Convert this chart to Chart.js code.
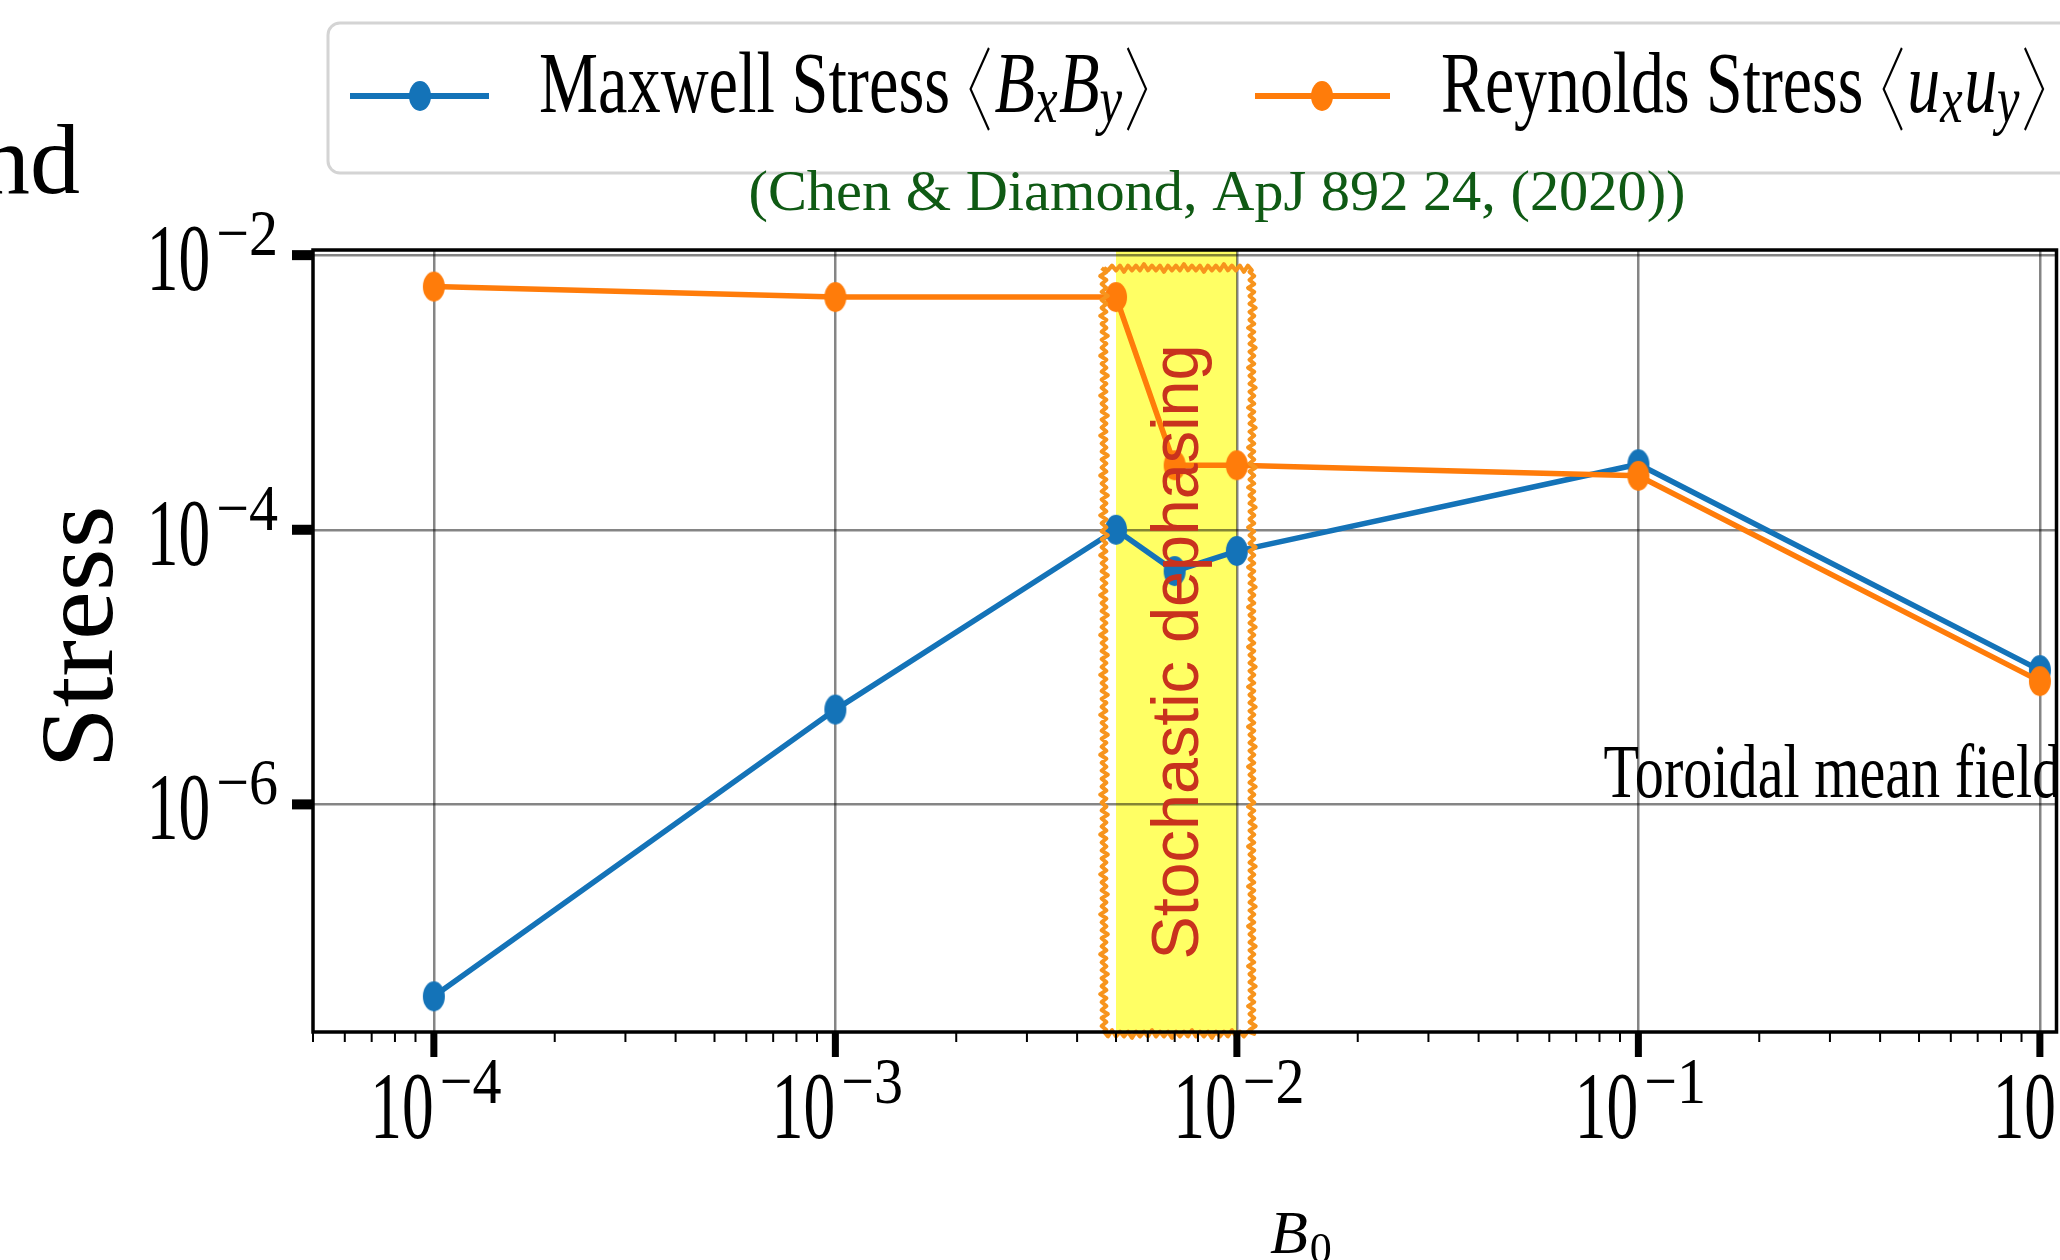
<!DOCTYPE html>
<html>
<head>
<meta charset="utf-8">
<title>Maxwell and Reynolds stress vs B0</title>
<script src="https://cdn.jsdelivr.net/npm/chart.js@4.4.1/dist/chart.umd.min.js"></script>
<style>
  html, body { margin: 0; padding: 0; background: #ffffff; overflow: hidden; }
  canvas { display: block; }
</style>
</head>
<body>
<!-- a little wider than the window: the right edge of the figure is cut off -->
<canvas id="stressChart" width="2072" height="1260"></canvas>
<script>
// Mean field strength B0 and the two stress components
const B0_VALUES = [1e-4, 1e-3, 5e-3, 7e-3, 1e-2, 1e-1, 1];
const MAXWELL_STRESS = [4.0e-8, 4.9e-6, 1.0e-4, 5.0e-5, 7.0e-5, 3.0e-4, 9.5e-6];
const REYNOLDS_STRESS = [5.9e-3, 4.95e-3, 4.95e-3, 2.95e-4, 2.95e-4, 2.47e-4, 7.9e-6];

// Axis limits and labelled decades
const X_RANGE = [5e-5, 1.1];
const Y_RANGE = [2.2e-8, 1.09e-2];
const X_DECADES = [1e-4, 1e-3, 1e-2, 1e-1, 1];
const Y_DECADES = [1e-6, 1e-4, 1e-2];

// Shaded region where stochastic dephasing sets in
const DEPHASING_RANGE = [5e-3, 1e-2];

const BLUE = '#1473b8';
const ORANGE = '#ff7c0a';
const SERIF = '"Liberation Serif", "Times New Roman", serif';

// Markers are slightly taller than wide
function makeMarker(color) {
    const c = document.createElement('canvas');
    c.width = 24;
    c.height = 32;
    const g = c.getContext('2d');
    g.fillStyle = color;
    g.beginPath();
    g.ellipse(12, 16, 11, 15, 0, 0, Math.PI * 2);
    g.fill();
    return c;
}
const blueMarker = makeMarker(BLUE);
const orangeMarker = makeMarker(ORANGE);

function expLabel(v) {
    const e = Math.round(Math.log10(v));
    return e < 0 ? '\u2212' + Math.abs(e) : String(e);
}

// Draws a run of text pieces (roman, italic, sub/superscripts, angle brackets)
function drawRich(ctx, parts, x, y, opts) {
    opts = opts || {};
    ctx.save();
    const widths = parts.map(p => {
        if (p.bracket) return p.w + (p.gap || 0);
        ctx.font = p.font;
        return ctx.measureText(p.text).width * (p.sx || 1) + (p.gap || 0);
    });
    const total = widths.reduce((a, b) => a + b, 0);
    const k = opts.width ? opts.width / total : (opts.sx || 1);
    let start = x;
    if (opts.align === 'center') start = x - total * k / 2;
    if (opts.align === 'right') start = x - total * k;
    ctx.translate(start, y);
    ctx.scale(k, 1);
    ctx.fillStyle = opts.color || '#000';
    ctx.strokeStyle = opts.color || '#000';
    ctx.textBaseline = 'alphabetic';
    ctx.textAlign = 'left';
    let cx = 0;
    parts.forEach((p, i) => {
        const gx = cx + (p.gap || 0);
        if (p.bracket) {
            const l = p.bracket === 'l';
            ctx.lineWidth = 2.6;
            ctx.beginPath();
            ctx.moveTo(gx + (l ? p.w * 0.85 : p.w * 0.15), p.top);
            ctx.lineTo(gx + (l ? p.w * 0.15 : p.w * 0.85), (p.top + p.bottom) / 2);
            ctx.lineTo(gx + (l ? p.w * 0.85 : p.w * 0.15), p.bottom);
            ctx.stroke();
        } else {
            ctx.save();
            ctx.translate(gx, p.dy || 0);
            ctx.scale(p.sx || 1, 1);
            ctx.font = p.font;
            ctx.fillText(p.text, 0, 0);
            ctx.restore();
        }
        cx += widths[i];
    });
    ctx.restore();
}

function powerParts(v) {
    return [
        { text: '10', font: '96px ' + SERIF, sx: 0.66 },
        { text: expLabel(v), font: '66px ' + SERIF, sx: 0.88, dy: -35, gap: 6 }
    ];
}

function stressParts(name, sym) {
    const roman = '86px ' + SERIF;
    const ital = 'italic 86px ' + SERIF;
    const sub = 'italic 66px ' + SERIF;
    return [
        { text: name + ' Stress ', font: roman },
        { bracket: 'l', w: 34, top: -64, bottom: 18 },
        { text: sym, font: ital, gap: 2 },
        { text: 'x', font: sub, dy: 10 },
        { text: sym, font: ital, gap: 2 },
        { text: 'y', font: sub, dy: 10 },
        { bracket: 'r', w: 34, top: -64, bottom: 18, gap: 2 }
    ];
}

// Rough, hand-drawn looking rectangle outline
function roughRect(ctx, x0, y0, x1, y1) {
    const pts = [[x0, y0], [x1, y0], [x1, y1], [x0, y1], [x0, y0]];
    ctx.beginPath();
    ctx.moveTo(x0, y0);
    for (let s = 0; s < 4; s++) {
        const [ax, ay] = pts[s], [bx, by] = pts[s + 1];
        const len = Math.hypot(bx - ax, by - ay);
        const n = Math.round(len / 4);
        const nx = -(by - ay) / len, ny = (bx - ax) / len;
        for (let i = 1; i <= n; i++) {
            const t = i / n;
            const off = (i % 2 ? 2.4 : -2.4) * (i % 5 === 0 ? 1.6 : 1);
            ctx.lineTo(ax + (bx - ax) * t + nx * off, ay + (by - ay) * t + ny * off);
        }
    }
    ctx.stroke();
}

// Yellow band behind grid and data
const bandPlugin = {
    id: 'dephasingBand',
    beforeDraw(chart) {
        const { ctx, chartArea, scales } = chart;
        const x0 = scales.x.getPixelForValue(DEPHASING_RANGE[0]);
        const x1 = scales.x.getPixelForValue(DEPHASING_RANGE[1]);
        ctx.save();
        ctx.fillStyle = '#ffff64';
        ctx.fillRect(x0, chartArea.top, x1 - x0, chartArea.bottom - chartArea.top);
        ctx.restore();
    }
};

// Frame, ticks, labels, legend and annotations
const decorPlugin = {
    id: 'decor',
    afterDatasetsDraw(chart) {
        const { ctx, chartArea: a, scales } = chart;
        const xs = scales.x, ys = scales.y;

        // annotation text inside the band
        const xMid = (xs.getPixelForValue(DEPHASING_RANGE[0]) + xs.getPixelForValue(DEPHASING_RANGE[1])) / 2;
        ctx.save();
        ctx.translate(xMid + 22, a.top + 402);
        ctx.rotate(-Math.PI / 2);
        ctx.font = '66px "Liberation Sans", Arial, sans-serif';
        const tw = ctx.measureText('Stochastic dephasing').width;
        ctx.scale(615 / tw, 1);
        ctx.fillStyle = '#c8321e';
        ctx.textAlign = 'center';
        ctx.textBaseline = 'alphabetic';
        ctx.fillText('Stochastic dephasing', 0, 0);
        ctx.restore();

        // rough outline round the band
        const bx0 = xs.getPixelForValue(DEPHASING_RANGE[0]) - 12;
        const bx1 = xs.getPixelForValue(DEPHASING_RANGE[1]) + 15;
        ctx.save();
        ctx.strokeStyle = '#f7941d';
        ctx.lineWidth = 4;
        ctx.lineJoin = 'round';
        roughRect(ctx, bx0, a.top + 18, bx1, a.bottom + 2);
        ctx.restore();

        // spines
        ctx.save();
        ctx.strokeStyle = '#000';
        ctx.lineWidth = 3.5;
        ctx.strokeRect(a.left, a.top, a.right - a.left, a.bottom - a.top);

        // x ticks: majors at decades, minors in between
        ctx.fillStyle = '#000';
        for (let d = -5; d <= 0; d++) {
            for (let m = 2; m <= 9; m++) {
                const v = m * Math.pow(10, d);
                if (v < X_RANGE[0] || v > X_RANGE[1]) continue;
                const px = xs.getPixelForValue(v);
                ctx.fillRect(px - 1, a.bottom, 2, 10);
            }
        }
        X_DECADES.forEach(v => {
            const px = xs.getPixelForValue(v);
            ctx.fillRect(px - 3.5, a.bottom, 7, 25);
            drawRich(ctx, powerParts(v), px + 2, a.bottom + 106, { align: 'center' });
        });
        Y_DECADES.forEach(v => {
            const py = ys.getPixelForValue(v);
            ctx.fillRect(a.left - 21, py - 5, 21, 10);
            drawRich(ctx, powerParts(v), a.left - 35, py + 35, { align: 'right' });
        });
        ctx.restore();

        // axis titles
        ctx.save();
        ctx.translate(112, (a.top + a.bottom) / 2 - 4);
        ctx.rotate(-Math.PI / 2);
        drawRich(ctx, [{ text: 'Stress', font: '104px ' + SERIF }], 0, 0, { align: 'center', width: 263 });
        ctx.restore();
        drawRich(ctx, [
            { text: 'B', font: 'italic 62px ' + SERIF },
            { text: '0', font: '44px ' + SERIF, dy: 10, gap: 2 }
        ], 1270, 1253);

        // in-plot label, cut off by the right spine
        ctx.save();
        ctx.beginPath();
        ctx.rect(0, 0, a.right, chart.height);
        ctx.clip();
        drawRich(ctx, [{ text: 'Toroidal mean field', font: '76px ' + SERIF }],
            xs.getPixelForValue(0.1) - 35, ys.getPixelForValue(1e-6) - 7, { width: 458 });
        ctx.restore();

        // legend
        ctx.save();
        ctx.fillStyle = '#ffffff';
        ctx.strokeStyle = '#d4d4d4';
        ctx.lineWidth = 3;
        ctx.beginPath();
        ctx.roundRect(328, 23, 1800, 150, 12);
        ctx.fill();
        ctx.stroke();
        ctx.lineWidth = 6;
        [[350, 489, 420, BLUE, blueMarker], [1255, 1390, 1322, ORANGE, orangeMarker]].forEach(([l0, l1, mx, col, mk]) => {
            ctx.strokeStyle = col;
            ctx.beginPath();
            ctx.moveTo(l0, 96);
            ctx.lineTo(l1, 96);
            ctx.stroke();
            ctx.drawImage(mk, mx - mk.width / 2, 96 - mk.height / 2);
        });
        ctx.restore();
        drawRich(ctx, stressParts('Maxwell', 'B'), 539, 112, { width: 611 });
        drawRich(ctx, stressParts('Reynolds', 'u'), 1441, 112, { width: 606 });

        // reference line
        drawRich(ctx, [{ text: '(Chen & Diamond, ApJ 892 24, (2020))', font: '57px ' + SERIF }],
            1217, 210, { align: 'center', width: 937, color: '#0f5a14' });

        // clipped word from the surrounding text
        ctx.save();
        ctx.font = '100px ' + SERIF;
        ctx.fillStyle = '#000';
        ctx.textAlign = 'right';
        ctx.fillText('and', 80, 193);
        ctx.restore();
    }
};

function pointsOf(values) {
    return B0_VALUES.map((x, i) => ({ x: x, y: values[i] }));
}

const gridOpts = {
    color: 'rgba(0, 0, 0, 0.48)',
    lineWidth: 2.5,
    drawTicks: false
};

new Chart(document.getElementById('stressChart').getContext('2d'), {
    type: 'line',
    data: {
        datasets: [
            {
                label: 'Maxwell Stress',
                data: pointsOf(MAXWELL_STRESS),
                borderColor: BLUE,
                backgroundColor: BLUE,
                borderWidth: 5.5,
                pointStyle: blueMarker,
                pointRadius: 10,
                tension: 0,
                fill: false,
                order: 1
            },
            {
                label: 'Reynolds Stress',
                data: pointsOf(REYNOLDS_STRESS),
                borderColor: ORANGE,
                backgroundColor: ORANGE,
                borderWidth: 5.5,
                pointStyle: orangeMarker,
                pointRadius: 10,
                tension: 0,
                fill: false,
                order: 0
            }
        ]
    },
    options: {
        responsive: false,
        animation: false,
        devicePixelRatio: 1,
        layout: {
            padding: { left: 313, top: 250, right: 3, bottom: 228 }
        },
        plugins: {
            legend: { display: false },
            tooltip: { enabled: false }
        },
        scales: {
            x: {
                type: 'logarithmic',
                min: X_RANGE[0],
                max: X_RANGE[1],
                ticks: { display: false },
                grid: gridOpts,
                border: { display: false },
                afterBuildTicks: s => { s.ticks = X_DECADES.map(v => ({ value: v })); }
            },
            y: {
                type: 'logarithmic',
                min: Y_RANGE[0],
                max: Y_RANGE[1],
                ticks: { display: false },
                grid: gridOpts,
                border: { display: false },
                afterBuildTicks: s => { s.ticks = Y_DECADES.map(v => ({ value: v })); }
            }
        }
    },
    plugins: [bandPlugin, decorPlugin]
});
</script>
</body>
</html>
